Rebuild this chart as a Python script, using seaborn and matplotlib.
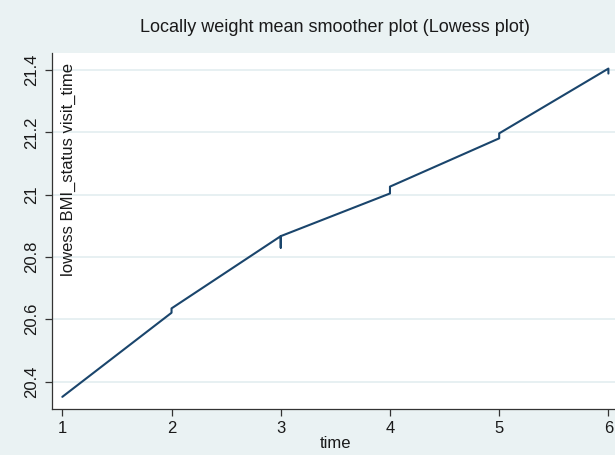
import pandas as pd
import matplotlib
matplotlib.use("Agg")
import matplotlib.pyplot as plt
import seaborn as sns

# values (ties at each visit give the small jumps)
time = [1, 2, 2, 3, 3, 3, 4, 4, 5, 5, 6, 6]
lowess_bmi = [20.351, 20.621, 20.635, 20.867, 20.830, 20.867,
              21.004, 21.026, 21.181, 21.197, 21.405, 21.389]
y_ticks = [20.4, 20.6, 20.8, 21.0, 21.2, 21.4]
y_tick_labels = ["20.4", "20.6", "20.8", "21", "21.2", "21.4"]
x_ticks = [1, 2, 3, 4, 5, 6]

df = pd.DataFrame({"time": time, "lowess": lowess_bmi})

bg = "#eaf2f3"
navy = "#1a456c"

sns.set_style("ticks")
plt.rcParams["font.family"] = ["Liberation Sans", "DejaVu Sans"]

fig = plt.figure(figsize=(6.15, 4.55), dpi=100, facecolor=bg)
ax = fig.add_axes([0.0841, 0.1011, 0.9224, 0.7824])
ax.set_facecolor("white")

sns.lineplot(data=df, x="time", y="lowess", sort=False, estimator=None,
             color=navy, linewidth=1.5, ax=ax)

ax.set_xlim(0.903, 6.097)
ax.set_ylim(20.312, 21.455)
ax.set_xticks(x_ticks)
ax.set_xticklabels([str(t) for t in x_ticks], fontsize=12)
ax.set_yticks(y_ticks)
ax.set_yticklabels(y_tick_labels, fontsize=12, rotation=90, va="center")
ax.yaxis.grid(True, color="#e3eef0", linewidth=1.2)
ax.set_axisbelow(True)

for side in ["top", "right"]:
    ax.spines[side].set_visible(False)
for side in ["left", "bottom"]:
    ax.spines[side].set_color("#333333")
    ax.spines[side].set_linewidth(0.9)
ax.tick_params(axis="both", length=5, width=0.9, color="#333333",
               labelcolor="#1a1a1a", pad=4)

ax.set_xlabel("time", fontsize=12, color="#1a1a1a", labelpad=0)
ax.set_ylabel("lowess BMI_status visit_time", fontsize=12, color="#1a1a1a",
              ha="right", va="center")
ax.yaxis.set_label_coords(0.0287, 0.972)

fig.suptitle("Locally weight mean smoother plot (Lowess plot)", fontsize=13,
             color="#1a1a1a", x=0.545, y=0.94, va="center")

fig.savefig("out.png", dpi=100, facecolor=bg)
